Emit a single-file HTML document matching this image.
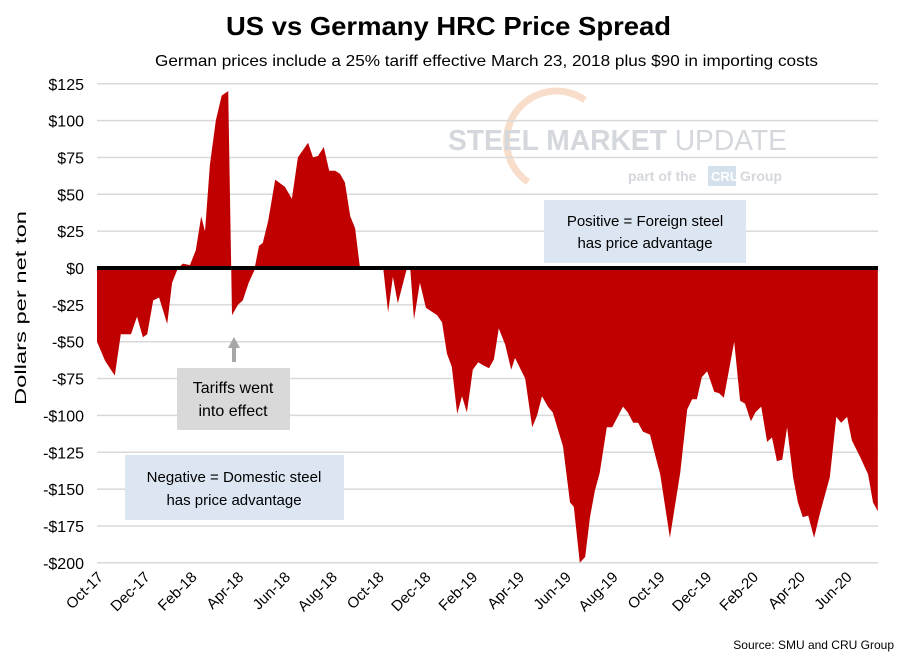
<!DOCTYPE html>
<html><head><meta charset="utf-8"><style>
body{margin:0;background:#fff;}
svg text{font-family:"Liberation Sans",sans-serif;}
</style></head><body>
<svg width="909" height="660" viewBox="0 0 909 660" xmlns="http://www.w3.org/2000/svg">
<text x="226" y="35" textLength="445" lengthAdjust="spacingAndGlyphs" font-size="26" font-weight="bold" fill="#000">US vs Germany HRC Price Spread</text>
<text x="155" y="66" textLength="663" lengthAdjust="spacingAndGlyphs" font-size="16" fill="#000">German prices include a 25% tariff effective March 23, 2018 plus $90 in importing costs</text>
<g opacity="0.6">
<path d="M528,182 A44,44 0 1 1 585,100" fill="none" stroke="#f4c9a8" stroke-width="7"/>
<text x="448" y="150" textLength="339" lengthAdjust="spacingAndGlyphs" font-size="29" font-weight="bold" fill="#b8bec6">STEEL MARKET <tspan font-weight="normal">UPDATE</tspan></text>
<text x="628" y="181" font-size="14" font-weight="bold" fill="#b8bec6">part of the</text>
<rect x="708" y="166" width="28" height="20" fill="#b8cde0"/>
<text x="711" y="181" font-size="13" font-weight="bold" fill="#fff">CRU</text>
<text x="740" y="181" font-size="14" font-weight="bold" fill="#b8bec6">Group</text>
</g>
<g id="grid"></g>
<g id="area"></g>
<g id="axes"></g>
<text transform="translate(26,308) rotate(-90)" x="-97" y="0" textLength="194" lengthAdjust="spacingAndGlyphs" font-size="16" fill="#000">Dollars per net ton</text>
<g>
<rect x="544" y="200" width="202" height="63" fill="#dce6f2"/>
<text x="645" y="226" text-anchor="middle" font-size="15">Positive = Foreign steel</text>
<text x="645" y="248" text-anchor="middle" font-size="15">has price advantage</text>
</g>
<g>
<line x1="234" y1="362" x2="234" y2="346" stroke="#a6a6a6" stroke-width="4"/>
<polygon points="228,348 240,348 234,337" fill="#a6a6a6"/>
<rect x="177" y="368" width="113" height="62" fill="#d9d9d9"/>
<text x="233" y="393" text-anchor="middle" font-size="16">Tariffs went</text>
<text x="233" y="416" text-anchor="middle" font-size="16">into effect</text>
</g>
<g>
<rect x="125" y="455" width="219" height="65" fill="#dce6f2"/>
<text x="234" y="482" text-anchor="middle" font-size="15">Negative = Domestic steel</text>
<text x="234" y="505" text-anchor="middle" font-size="15">has price advantage</text>
</g>
<text x="894" y="649" text-anchor="end" font-size="12" fill="#000">Source: SMU and CRU Group</text>
</svg>
<script>
const weeks=[0,1.5,3.3,4.4,6.3,7.4,8.5,9.3,10.4,11.5,13,13.9,15,15.9,17.2,18.3,19.3,20,20.9,22,23.1,24.3,25,26.1,27,28.1,29.1,30,30.7,31.7,33,34.8,36.1,37.2,39.1,40,40.9,42,43,44.1,45,45.9,46.9,47.8,48.7,53,53.9,54.8,55.7,57.4,58,58.7,59.8,60.9,63,63.9,64.8,65.7,66.7,67.6,68.5,69.6,70.6,71.5,72.6,73.5,74.4,75.6,76.7,77.4,79.3,80.6,81.5,82.4,83.5,84.4,86.3,87.6,88.3,89.4,90.4,91.3,92.2,93.1,94.4,95.4,97.4,98.3,99.3,100.2,101.1,102.4,103.3,104.3,106.1,108,109.3,110.2,111.1,112,113,114.3,115.2,116.1,118,119.1,120,121.1,121.9,123,124.1,125,125.9,126.9,127.8,128.9,129.8,130.7,131.7,132.8,133.9,135.7,136.9,137.8,138.9,139.8,141.3,142.8,143.7,144.6];
const spread=[-50,-63,-73,-45,-45,-33,-47,-45,-22,-20,-38,-10,0,3,2,12,35,25,70,100,117,120,-32,-25,-22,-10,-2,15,17,32,60,55,47,75,85,75,76,82,66,66,64,58,35,27,0,0,-30,-6,-24,0,0,-35,-10,-27,-32,-37,-58,-67,-99,-87,-98,-69,-64,-66,-68,-62,-41,-52,-69,-61,-75,-108,-100,-87,-94,-98,-121,-159,-162,-200,-196,-169,-151,-139,-108,-108,-94,-98,-105,-105,-111,-113,-126,-140,-183,-139,-96,-89,-89,-74,-70,-84,-85,-88,-50,-90,-92,-104,-98,-94,-118,-115,-131,-130,-108,-142,-159,-169,-168,-183,-166,-142,-101,-105,-101,-117,-128,-140,-159,-165];
const yTicks=[125,100,75,50,25,0,-25,-50,-75,-100,-125,-150,-175,-200];
const xLabels=["Oct-17","Dec-17","Feb-18","Apr-18","Jun-18","Aug-18","Oct-18","Dec-18","Feb-19","Apr-19","Jun-19","Aug-19","Oct-19","Dec-19","Feb-20","Apr-20","Jun-20"];
const NS="http://www.w3.org/2000/svg";
const X0=97,X1=878;
function xw(w){return X0+w*5.4;}
function xm(m){return X0+m*23.4;}
function y(v){return 268-v*36.85/25;}
function mk(t,a,p){const e=document.createElementNS(NS,t);for(const k in a)e.setAttribute(k,a[k]);p.appendChild(e);return e;}
const grid=document.getElementById('grid'),axes=document.getElementById('axes'),area=document.getElementById('area');
yTicks.forEach(v=>{
 const l=mk('line',{x1:X0,x2:X1,y1:y(v),y2:y(v),stroke:'#d9d9d9','stroke-width':1.5},grid);
 
 
 const t=mk('text',{x:84,y:y(v)+6,'text-anchor':'end','font-size':16},axes);
 t.textContent=(v<0?'-$':'$')+Math.abs(v);
 
 
});
let d='M'+xw(weeks[0])+','+y(0);
weeks.forEach((w,i)=>{d+=' L'+xw(w).toFixed(1)+','+y(spread[i]).toFixed(1);});
d+=' L'+xw(weeks[weeks.length-1])+','+y(0)+' Z';
const p=mk('path',{d:d,fill:'#c00000'},area);


const z=mk('line',{x1:X0,x2:X1,y1:y(0),y2:y(0),stroke:'#000','stroke-width':4},axes);


xLabels.forEach((s,i)=>{
 const x=xm(i*2)+7,yy=578;
 const t=mk('text',{x:x,y:yy,'text-anchor':'end','font-size':15,transform:'rotate(-45 '+x+' '+yy+')'},axes);
 t.textContent=s;
 
 
});
</script>
</body></html>
